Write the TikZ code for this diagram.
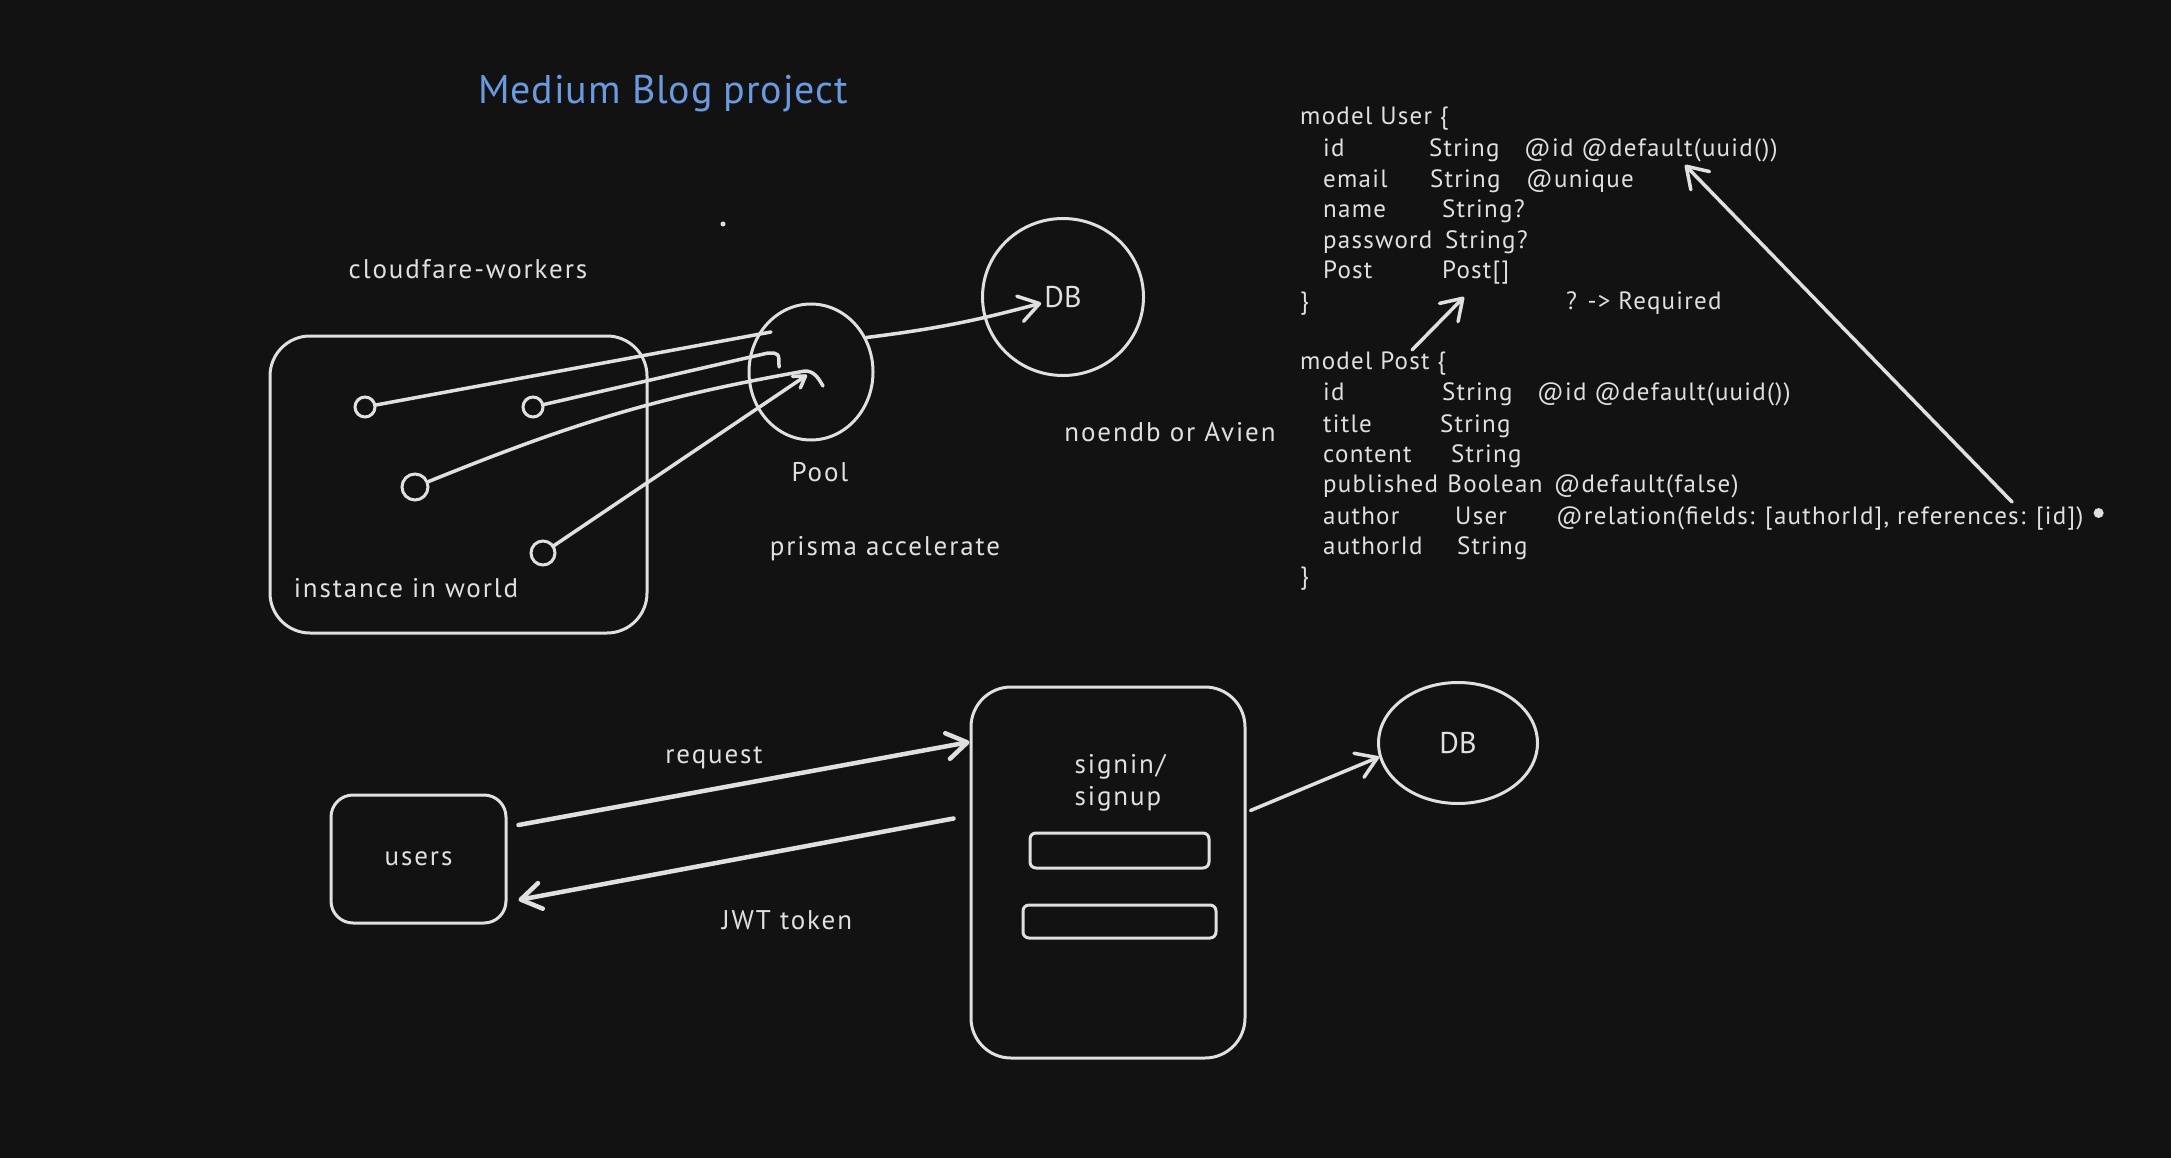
\documentclass[tikz,border=0pt]{standalone}
\usepackage{fontspec}
\setmainfont{PT Sans}
\newfontfamily\lblfont[LetterSpace=7]{PT Sans}
\newfontfamily\codefont[LetterSpace=5]{PT Sans}
\newfontfamily\ttlfont[LetterSpace=2]{PT Sans}
\usetikzlibrary{shapes.geometric,arrows.meta,calc}
\definecolor{bg}{HTML}{121212}
\definecolor{ink}{HTML}{E0E0E0}
\definecolor{ttl}{HTML}{6A9BE0}
\begin{document}
\begin{tikzpicture}[x=1pt,y=-1pt,
  every node/.style={text=ink},
  lbl/.style={font=\lblfont\fontsize{27}{32}\selectfont},
  code/.style={font=\codefont\fontsize{25}{30}\selectfont, anchor=base west, inner sep=0pt},
  line/.style={draw=ink, line width=3.5pt, line cap=round, line join=round},
  arr/.style={line, -{Straight Barb[length=20pt,width=26pt,round]}},
  smallarr/.style={line, -{Straight Barb[length=11pt,width=14pt,round]}},
  dot/.style={circle, fill=ink, inner sep=0pt, minimum size=5pt},
  ring/.style={circle, draw=ink, line width=3pt, inner sep=0pt},
  box/.style={draw=ink, line width=3pt, rounded corners=#1, inner sep=0pt},
  box/.default=20pt,
  oval/.style={ellipse, draw=ink, line width=3pt, inner sep=0pt},
]
\fill[bg] (0,0) rectangle (2171,1158);
\useasboundingbox (0,0) rectangle (2171,1158);

% ---------- title ----------
\node[font=\ttlfont\fontsize{40}{48}\selectfont, text=ttl] (title) at (663,94) {Medium Blog project};
\node[dot] (dot1) at (723,224) {};

% ---------- workers / pool / db ----------
\node[lbl] (cw) at (468,269) {cloudfare-workers};
\node[box=40pt, minimum width=377pt, minimum height=297pt] (world) at (458.5,484.5) {};
\node[lbl] (inworld) at (406,588) {instance in world};
\node[ring, minimum size=20pt] (i1) at (365,407) {};
\node[ring, minimum size=20pt] (i2) at (533,407) {};
\node[ring, minimum size=26pt] (i3) at (415,487) {};
\node[ring, minimum size=24pt] (i4) at (543,553) {};
\node[oval, minimum width=124pt, minimum height=136pt] (pool) at (811,372) {};
\node[lbl] (poolt) at (820,472) {Pool};
\node[lbl] (prisma) at (885,549) {prisma accelerate};
\node[oval, minimum width=161pt, minimum height=157pt] (db1) at (1063,297) {};
\node[font=\fontsize{30}{36}\selectfont, inner sep=3pt] (db1t) at (1063,297) {DB};
\node[lbl] (neon) at (1170,432) {noendb or Avien};

\coordinate (e1) at (771,332);
\coordinate (e2) at (768,353);
\coordinate (e2b) at (779,367);
\coordinate (e3) at (805,371);
\coordinate (e3b) at (823,386);
\coordinate (e4) at (807,375);
\draw[line] (i1) -- (e1);
\draw[line] (i2) -- (e2) .. controls (779,353) .. (e2b);
\draw[line] (i3) to[out=22,in=190] (e3) to[out=0,in=120] (e3b);
\draw[smallarr] (i4) -- (e4);
\draw[arr] (pool.32) to[bend right=4] (db1t);

% ---------- prisma schema ----------
\node[code] (u0) at (1300,125) {model User \{};
\node[code] (u1a) at (1323,157) {id};
\node[code] (u1b) at (1429,157) {String};
\node[code] (u1c) at (1524,157) {@id @default(uuid())};
\node[code] (u2a) at (1323,188) {email};
\node[code] (u2b) at (1430,188) {String};
\node[code] (u2c) at (1526,188) {@unique};
\node[code] (u3a) at (1323,218) {name};
\node[code] (u3b) at (1442,218) {String?};
\node[code] (u4a) at (1323,249) {password};
\node[code] (u4b) at (1445,249) {String?};
\node[code] (u5a) at (1323,279) {Post};
\node[code] (u5b) at (1442,279) {Post[]};
\node[code] (u6a) at (1300,309) {\}};
\node[code] (u6b) at (1566,309) {? -> Required};

\node[code] (p0) at (1300,369) {model Post \{};
\node[code] (p1a) at (1323,400) {id};
\node[code] (p1b) at (1442,400) {String};
\node[code] (p1c) at (1537,400) {@id @default(uuid())};
\node[code] (p2a) at (1323,432) {title};
\node[code] (p2b) at (1440,432) {String};
\node[code] (p3a) at (1323,462) {content};
\node[code] (p3b) at (1451,462) {String};
\node[code] (p4a) at (1323,492) {published};
\node[code] (p4b) at ([xshift=9pt]p4a.base east) {Boolean};
\node[code] (p4c) at ([xshift=11pt]p4b.base east) {@default(false)};
\node[code] (p5a) at (1323,524) {author};
\node[code] (p5b) at (1455,524) {User};
\node[code] (p5c) at (1556,524) {@relation(fields: [authorId], references: [id])};
\node[code] (p6a) at (1323,554) {authorId};
\node[code] (p6b) at (1457,554) {String};
\node[code] (p7) at (1300,584) {\}};
\node[dot, minimum size=10pt] (reldot) at ([shift={(15,-11)}]p5c.base east) {};

\coordinate (pa) at (1412,350);
\coordinate (pb) at (1464,297);
\draw[arr] (pa) -- (pb);
\coordinate (ra) at (2012,502);
\coordinate (rb) at (1685,165);
\draw[arr] (ra) -- (rb);

% ---------- auth flow ----------
\node[box=22pt, minimum width=175pt, minimum height=128pt, lbl] (users) at (418.5,859) {users};
\node[box=40pt, minimum width=274pt, minimum height=371pt] (auth) at (1108,872.5) {};
\node[lbl, align=left] (authlbl) at (1120,783) {signin/\\signup};
\node[box=6pt, minimum width=179pt, minimum height=35pt] (f1) at (1119.5,850.5) {};
\node[box=6pt, minimum width=193pt, minimum height=33pt] (f2) at (1119.5,921.5) {};
\node[oval, minimum width=159pt, minimum height=121pt, font=\fontsize{30}{36}\selectfont] (db2) at (1458,743) {DB};
\node[lbl] (reqt) at (714,758) {request};
\node[lbl] (jwtt) at (787,920) {JWT token};

\draw[arr, line width=4.5pt] ([shift={(11,-34)}]users.east) -- ([shift={(0,-130.5)}]auth.west);
\draw[arr, line width=4.5pt] ([shift={(-16,-54)}]auth.west) -- ([shift={(11,41)}]users.east);
\draw[arr] ([shift={(4,-62)}]auth.east) -- (db2.190);
\end{tikzpicture}
\end{document}
